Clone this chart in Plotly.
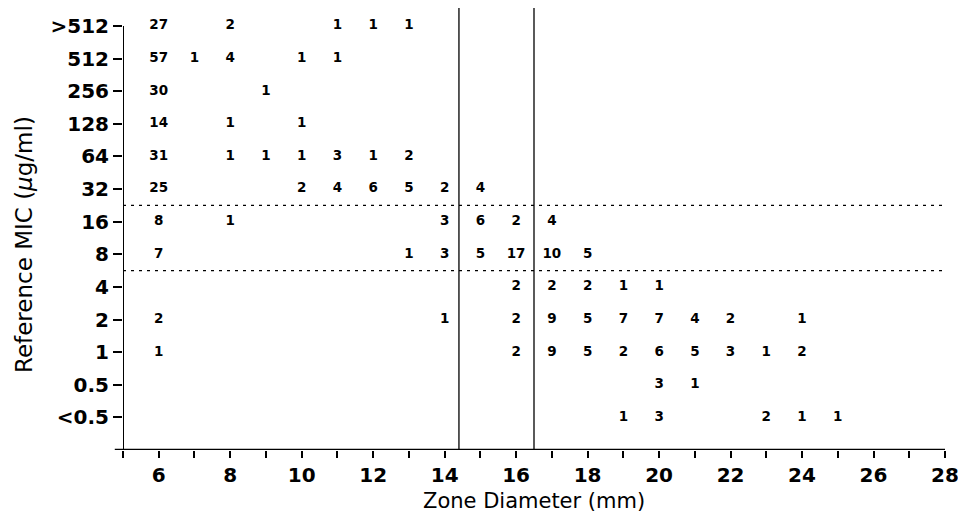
import plotly.graph_objects as go

mic_labels = ["<0.5", "0.5", "1", "2", "4", "8", "16", "32", "64", "128", "256", "512", ">512"]

# zone diameters (mm) and isolate counts for each MIC row
zones_lt05 = [19, 20, 23, 24, 25]
counts_lt05 = [1, 3, 2, 1, 1]
zones_05 = [20, 21]
counts_05 = [3, 1]
zones_1 = [6, 16, 17, 18, 19, 20, 21, 22, 23, 24]
counts_1 = [1, 2, 9, 5, 2, 6, 5, 3, 1, 2]
zones_2 = [6, 14, 16, 17, 18, 19, 20, 21, 22, 24]
counts_2 = [2, 1, 2, 9, 5, 7, 7, 4, 2, 1]
zones_4 = [16, 17, 18, 19, 20]
counts_4 = [2, 2, 2, 1, 1]
zones_8 = [6, 13, 14, 15, 16, 17, 18]
counts_8 = [7, 1, 3, 5, 17, 10, 5]
zones_16 = [6, 8, 14, 15, 16, 17]
counts_16 = [8, 1, 3, 6, 2, 4]
zones_32 = [6, 10, 11, 12, 13, 14, 15]
counts_32 = [25, 2, 4, 6, 5, 2, 4]
zones_64 = [6, 8, 9, 10, 11, 12, 13]
counts_64 = [31, 1, 1, 1, 3, 1, 2]
zones_128 = [6, 8, 10]
counts_128 = [14, 1, 1]
zones_256 = [6, 9]
counts_256 = [30, 1]
zones_512 = [6, 7, 8, 10, 11]
counts_512 = [57, 1, 4, 1, 1]
zones_gt512 = [6, 8, 11, 12, 13]
counts_gt512 = [27, 2, 1, 1, 1]

x_ticks = list(range(5, 29))
x_ticktext = [str(v) if v % 2 == 0 else "" for v in x_ticks]

zone_breakpoints = [14.4, 16.5]
mic_breakpoints = [4.5, 6.5]

rows = [
    (zones_lt05, counts_lt05), (zones_05, counts_05), (zones_1, counts_1),
    (zones_2, counts_2), (zones_4, counts_4), (zones_8, counts_8),
    (zones_16, counts_16), (zones_32, counts_32), (zones_64, counts_64),
    (zones_128, counts_128), (zones_256, counts_256), (zones_512, counts_512),
    (zones_gt512, counts_gt512),
]

xs, ys, txt = [], [], []
for i, (zs, cs) in enumerate(rows):
    for z, c in zip(zs, cs):
        xs.append(z)
        ys.append(i)
        txt.append(str(c))

FONT = "DejaVu Sans"

fig = go.Figure()
fig.add_trace(go.Scatter(
    x=xs, y=ys, text=txt, mode="text",
    textfont=dict(family=FONT, size=13.5, color="black", weight="bold"),
    textposition="middle center", showlegend=False, hoverinfo="skip",
))

shapes = []
for xb in zone_breakpoints:
    shapes.append(dict(type="line", xref="x", yref="paper", x0=xb, x1=xb, y0=0, y1=1,
                       line=dict(color="black", width=1.3), layer="above"))
for yb in mic_breakpoints:
    shapes.append(dict(type="line", xref="x", yref="y", x0=5, x1=28, y0=yb, y1=yb,
                       line=dict(color="black", width=1.2, dash="3px,5px"), layer="above"))
# y axis line (starts at top category tick)
shapes.append(dict(type="line", xref="x", yref="y", x0=5, x1=5, y0=-1, y1=len(mic_labels) - 1,
                   line=dict(color="black", width=2)))
# x axis line (slightly extending left)
shapes.append(dict(type="line", xref="paper", yref="y", x0=-0.01, x1=1, y0=-1, y1=-1,
                   line=dict(color="black", width=2.5)))
fig.update_layout(shapes=shapes)

fig.update_xaxes(
    range=[5, 28], tickvals=x_ticks, ticktext=x_ticktext,
    ticks="outside", ticklen=7, tickwidth=2, tickcolor="black",
    showgrid=False, zeroline=False, showline=False, automargin=False,
    tickfont=dict(family=FONT, size=20, color="black", weight="bold"),
)
fig.update_yaxes(
    range=[-1, 12.55], tickvals=list(range(len(mic_labels))), ticktext=mic_labels,
    ticks="outside", ticklen=9, tickwidth=2, tickcolor="black",
    showgrid=False, zeroline=False, showline=False, automargin=False,
    tickfont=dict(family=FONT, size=20, color="black", weight="bold"),
)

fig.add_annotation(text="Zone Diameter (mm)", xref="paper", yref="paper",
                   x=0.5, y=0, yshift=-37, xanchor="center", yanchor="top", showarrow=False,
                   font=dict(family=FONT, size=21, color="black"))
fig.add_annotation(text="Reference MIC (<i>μ</i>g/ml)", xref="paper", yref="paper",
                   x=0, xshift=-99, y=0.5, yshift=-16, xanchor="center", yanchor="middle",
                   textangle=-90, showarrow=False,
                   font=dict(family=FONT, size=23, color="black"))

# page body has a default 8px margin, so the figure is sized to fit the window
fig.update_layout(
    width=958, height=508,
    margin=dict(l=115, r=21, t=0, b=66),
    plot_bgcolor="white", paper_bgcolor="white",
)

fig.write_html("out.html")
